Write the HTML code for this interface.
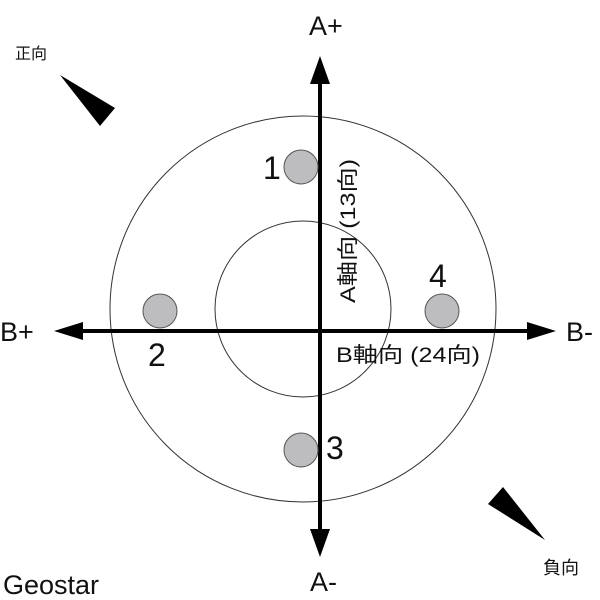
<!DOCTYPE html>
<html><head><meta charset="utf-8"><style>
html,body{margin:0;padding:0;background:#fff;}
svg{display:block;}
text{font-family:"Liberation Sans","Noto Sans CJK TC",sans-serif;fill:#111;}
</style></head><body>
<svg width="600" height="600" viewBox="0 0 600 600">
<circle cx="303" cy="309" r="193" fill="none" stroke="#333" stroke-width="1"/>
<circle cx="303" cy="309" r="88" fill="none" stroke="#333" stroke-width="1"/>
<line x1="320" y1="75" x2="320" y2="540" stroke="#000" stroke-width="4"/>
<line x1="75" y1="331" x2="540" y2="331" stroke="#000" stroke-width="4"/>
<polygon points="320,56 310,84 330,84" fill="#000"/>
<polygon points="320,557 310,529 330,529" fill="#000"/>
<polygon points="54,331 83,322 83,340" fill="#000"/>
<polygon points="556,331 527,322 527,340" fill="#000"/>
<circle cx="301" cy="167" r="17" fill="#bdbdc0" stroke="#555" stroke-width="1"/>
<circle cx="160" cy="311" r="17" fill="#bdbdc0" stroke="#555" stroke-width="1"/>
<circle cx="301" cy="450" r="17" fill="#bdbdc0" stroke="#555" stroke-width="1"/>
<circle cx="442" cy="311" r="17" fill="#bdbdc0" stroke="#555" stroke-width="1"/>
<text x="263" y="179" font-size="32">1</text>
<text x="148" y="366" font-size="32">2</text>
<text x="326" y="459" font-size="32">3</text>
<text x="429" y="287" font-size="32">4</text>
<text x="309" y="35" font-size="27">A+</text>
<text x="310" y="591" font-size="27">A-</text>
<text x="0" y="341" font-size="27">B+</text>
<text x="566" y="341" font-size="27">B-</text>
<text x="3" y="594" font-size="27">Geostar</text>
<text x="336" y="362" font-size="21" textLength="144" lengthAdjust="spacingAndGlyphs">B軸向 (24向)</text>
<text transform="translate(355,303) rotate(-90)" font-size="21" textLength="144" lengthAdjust="spacingAndGlyphs">A軸向 (13向)</text>
<polygon points="60,75 115,108 100,126" fill="#000"/>
<polygon points="488,504 503,487 545,540" fill="#000"/>
<text x="15" y="59" font-size="16" fill="#333">正向</text>
<text x="543" y="574" font-size="18" fill="#333">負向</text>
</svg>
</body></html>
